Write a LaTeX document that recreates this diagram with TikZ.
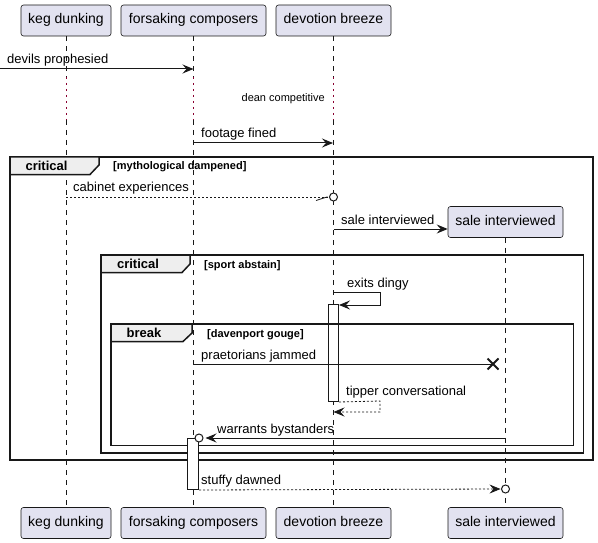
\documentclass[tikz,border=0pt]{standalone}
\usepackage{fontspec}
\setmainfont{Liberation Sans}
\usetikzlibrary{arrows.meta,calc}
\definecolor{pbox}{HTML}{E2E2F0}
\definecolor{pline}{HTML}{181818}
\definecolor{ptab}{HTML}{EEEEEE}
\definecolor{pdelay}{HTML}{8A0030}
\tikzset{
 part/.style={draw=pline, line width=0.6pt, fill=pbox, rounded corners=2.5pt, minimum height=31pt, inner sep=0pt, font=\fontsize{14}{16}\selectfont, text height=10pt, text depth=3pt},
 life/.style={draw=pline, line width=0.5pt, dash pattern=on 5pt off 5pt},
 delayl/.style={draw=pdelay, line width=1pt, dash pattern=on 1.6pt off 4.4pt},
 msg/.style={draw=pline, line width=1pt, -{Stealth[length=11pt,width=9pt,inset=4pt]}},
 ret/.style={msg, dash pattern=on 2pt off 2pt},
 plain/.style={draw=pline, line width=1pt},
 lbl/.style={font=\fontsize{13}{15}\selectfont, anchor=base west, inner sep=0pt},
 small/.style={font=\fontsize{11}{13}\selectfont, anchor=base east, inner sep=0pt},
 frame/.style={draw=pline, line width=1.5pt},
 tab/.style={draw=pline, line width=1.5pt, fill=ptab},
 glbl/.style={font=\bfseries\fontsize{13}{15}\selectfont, anchor=base, inner sep=0pt},
 gcond/.style={font=\bfseries\fontsize{11}{13}\selectfont, anchor=base west, inner sep=0pt},
 act/.style={draw=pline, line width=1pt, fill=white},
 endc/.style={draw=pline, line width=1pt, fill=white, circle, inner sep=0pt, minimum size=8pt},
}
\begin{document}
\begin{tikzpicture}[x=1pt, y=-1pt]
\useasboundingbox (0,0) rectangle (598,543);
% participants
\node[part, minimum width=90pt]  (kegT) at (66,20.5) {keg dunking};
\node[part, minimum width=145pt] (forT) at (193.5,20.5) {forsaking composers};
\node[part, minimum width=115pt] (devT) at (333.5,20.5) {devotion breeze};
\node[part, minimum width=90pt]  (kegB) at (66,523) {keg dunking};
\node[part, minimum width=145pt] (forB) at (193.5,523) {forsaking composers};
\node[part, minimum width=115pt] (devB) at (333.5,523) {devotion breeze};
\node[part, minimum width=115pt] (salB) at (505.5,523) {sale interviewed};
\node[part, minimum width=115pt] (salT) at (505.5,222) {sale interviewed};
% delay marks
\coordinate (dA) at (0,77);
\coordinate (dB) at (0,120);
% lifelines
\foreach \p/\q in {kegT/kegB, forT/forB, devT/devB}{
  \draw[life] (\p.south) -- (\p.south |- dA);
  \draw[delayl] (\p.south |- dA) -- (\p.south |- dB);
  \draw[life] (\p.south |- dB) -- (\q.north);
}
\draw[life] (salT.south) -- (salB.north);
% devils prophesied
\coordinate (m1s) at (0,69);
\coordinate (m1e) at (193.5,69);
\draw[msg] (m1s) -- (m1e);
\node[lbl] (l1) at (7,64) {devils prophesied};
\node[small] (dl) at (325,102) {dean competitive};
% footage fined
\coordinate (m2s) at (193.5,143);
\coordinate (m2e) at (333,143);
\draw[msg] (m2s) -- (m2e);
\node[lbl] (l2) at (201,138) {footage fined};
% outer critical frame
\draw[frame, line width=1.8pt] (10,157) rectangle (593,460);
\draw[tab] (10,157) -- (99,157) -- (99,165) -- (90,174.5) -- (10,174.5) -- cycle;
\node[glbl] (g1) at (46.5,170.5) {critical};
\node[gcond] (c1) at (113,170) {[mythological dampened]};
% cabinet experiences
\node[endc] (o1) at (333.5,197) {};
\coordinate (m3s) at (66,197);
\draw[plain, line width=0.8pt, dash pattern=on 2pt off 2pt] (m3s) -- (o1.west);
\draw[plain, line width=0.8pt] (316,200.5) -- (327.5,196.8);
\node[lbl] (l3) at (73,192) {cabinet experiences};
% sale interviewed (create)
\coordinate (m4s) at (333.5,229);
\draw[msg] (m4s) -- (salT.west |- m4s);
\node[lbl] (l4) at (341,224) {sale interviewed};
% inner critical frame
\draw[frame] (101,255) rectangle (583.5,453);
\draw[tab] (101,255) -- (190,255) -- (190,264) -- (182,272.5) -- (101,272.5) -- cycle;
\node[glbl] (g2) at (138,268.5) {critical};
\node[gcond] (c2) at (204,268) {[sport abstain]};
% exits dingy
\node[act, minimum width=10pt, minimum height=97pt, inner sep=0pt, anchor=north] (actD) at (333.5,304) {};
\coordinate (m5s) at (333.5,292);
\coordinate (m5e) at (actD.north east |- 0,305);
\draw[msg] (m5s) -- (380,292) -- (380,305) -- (m5e);
\node[lbl] (l5) at (347,287) {exits dingy};
% break frame
\draw[frame] (111,324) rectangle (573.5,445.5);
\draw[tab] (111,324) -- (192,324) -- (192,333) -- (183,341.5) -- (111,341.5) -- cycle;
\node[glbl] (g3) at (144,337.5) {break};
\node[gcond] (c3) at (207,337) {[davenport gouge]};
% praetorians jammed
\coordinate (m6s) at (193.5,364);
\coordinate (m6e) at (493,364);
\draw[plain] (m6s) -- (m6e);
\draw[plain, line width=1.8pt] ($(m6e)+(-5.5,-5.5)$) -- ($(m6e)+(5.5,5.5)$);
\draw[plain, line width=1.8pt] ($(m6e)+(-5.5,5.5)$) -- ($(m6e)+(5.5,-5.5)$);
\node[lbl] (l6) at (201,359) {praetorians jammed};
% tipper conversational
\coordinate (m7s) at (actD.south east);
\coordinate (m7e) at (333.5,412);
\draw[ret, line width=0.8pt] (m7s) -- (380,401) -- (380,412) -- (m7e);
\node[lbl] (l7) at (346,395) {tipper conversational};
% warrants bystanders
\node[act, minimum width=11pt, minimum height=51pt, inner sep=0pt, anchor=north] (actF) at (193,438) {};
\node[endc] (o2) at (actF.north east) {};
\coordinate (m8s) at (505.5,438);
\draw[msg] (m8s) -- ($(o2.east)+(2,0)$);
\node[lbl] (l8) at (217,433) {warrants bystanders};
% stuffy dawned
\node[endc] (o3) at (505.5,489) {};
\coordinate (m9s) at (actF.south east);
\draw[ret, line width=0.8pt] (m9s) -- ($(o3.west)+(-0.5,0)$);
\node[lbl] (l9) at (201,484) {stuffy dawned};
\end{tikzpicture}
\end{document}
